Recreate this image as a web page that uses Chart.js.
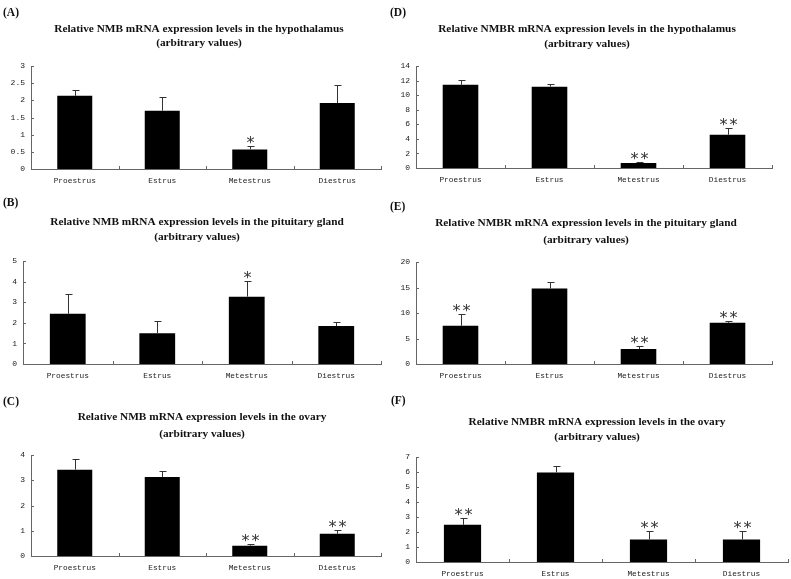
<!DOCTYPE html>
<html>
<head>
<meta charset="utf-8">
<script src="https://cdn.jsdelivr.net/npm/chart.js@4.4.1/dist/chart.umd.min.js"></script>
<style>
  html, body { margin: 0; padding: 0; background: #fff; }
  body { width: 791px; height: 579px; position: relative; overflow: hidden; }
  .panel { position: absolute; }
</style>
</head>
<body>
<div class="panel" id="panelA"><canvas id="chartA"></canvas></div>
<div class="panel" id="panelD"><canvas id="chartD"></canvas></div>
<div class="panel" id="panelB"><canvas id="chartB"></canvas></div>
<div class="panel" id="panelE"><canvas id="chartE"></canvas></div>
<div class="panel" id="panelC"><canvas id="chartC"></canvas></div>
<div class="panel" id="panelF"><canvas id="chartF"></canvas></div>
<script>
        // Phases du cycle oestral
        const categories = ['Proestrus', 'Estrus', 'Metestrus', 'Diestrus'];

        // (A) NMB, hypothalamus
        const nmbHypothalamus = [2.13, 1.70, 0.57, 1.92];
        const nmbHypothalamusErr = [0.18, 0.39, 0.11, 0.52];
        const nmbHypothalamusSig = ['', '', '*', ''];
        const ticksA = [0, 0.5, 1, 1.5, 2, 2.5, 3];

        // (D) NMBR, hypothalamus
        const nmbrHypothalamus = [11.44, 11.16, 0.70, 4.57];
        const nmbrHypothalamusErr = [0.64, 0.37, 0.12, 0.92];
        const nmbrHypothalamusSig = ['', '', '**', '**'];
        const ticksD = [0, 2, 4, 6, 8, 10, 12, 14];

        // (B) NMB, hypophyse
        const nmbPituitary = [2.44, 1.49, 3.27, 1.84];
        const nmbPituitaryErr = [0.97, 0.60, 0.78, 0.22];
        const nmbPituitarySig = ['', '', '*', ''];
        const ticksB = [0, 1, 2, 3, 4, 5];

        // (E) NMBR, hypophyse
        const nmbrPituitary = [7.49, 14.79, 2.93, 8.08];
        const nmbrPituitaryErr = [2.28, 1.30, 0.65, 0.32];
        const nmbrPituitarySig = ['**', '', '**', '**'];
        const ticksE = [0, 5, 10, 15, 20];

        // (C) NMB, ovaire
        const nmbOvary = [3.42, 3.13, 0.41, 0.88];
        const nmbOvaryErr = [0.43, 0.22, 0.08, 0.14];
        const nmbOvarySig = ['', '', '**', '**'];
        const ticksC = [0, 1, 2, 3, 4];

        // (F) NMBR, ovaire
        const nmbrOvary = [2.48, 5.97, 1.50, 1.50];
        const nmbrOvaryErr = [0.47, 0.40, 0.58, 0.58];
        const nmbrOvarySig = ['**', '', '**', '**'];
        const ticksF = [0, 1, 2, 3, 4, 5, 6, 7];

        const subtitle = '(arbitrary values)';

        // Mise en page : boite du canvas [x, y, w, h] et zone du graphique [gauche, droite, haut, bas], en px de la page
        const panels = [
            { id: 'A', title: 'Relative NMB mRNA expression levels in the hypothalamus',
              values: nmbHypothalamus, err: nmbHypothalamusErr, sig: nmbHypothalamusSig, ticks: ticksA,
              box: [0, 0, 388, 190], area: [31, 381, 66, 169], titleX: 199, titleY: [29, 43], tag: [3, 13] },
            { id: 'D', title: 'Relative NMBR mRNA expression levels in the hypothalamus',
              values: nmbrHypothalamus, err: nmbrHypothalamusErr, sig: nmbrHypothalamusSig, ticks: ticksD,
              box: [388, 0, 403, 190], area: [416, 772, 66, 168], titleX: 587, titleY: [29, 44], tag: [390, 13] },
            { id: 'B', title: 'Relative NMB mRNA expression levels in the pituitary gland',
              values: nmbPituitary, err: nmbPituitaryErr, sig: nmbPituitarySig, ticks: ticksB,
              box: [0, 190, 388, 190], area: [23, 381, 261, 364], titleX: 197, titleY: [222, 237], tag: [3, 203] },
            { id: 'E', title: 'Relative NMBR mRNA expression levels in the pituitary gland',
              values: nmbrPituitary, err: nmbrPituitaryErr, sig: nmbrPituitarySig, ticks: ticksE,
              box: [388, 190, 403, 190], area: [416, 772, 262, 364], titleX: 586, titleY: [223, 240], tag: [390, 207] },
            { id: 'C', title: 'Relative NMB mRNA expression levels in the ovary',
              values: nmbOvary, err: nmbOvaryErr, sig: nmbOvarySig, ticks: ticksC,
              box: [0, 380, 388, 199], area: [31, 381, 455, 556], titleX: 202, titleY: [417, 434], tag: [3, 402] },
            { id: 'F', title: 'Relative NMBR mRNA expression levels in the ovary',
              values: nmbrOvary, err: nmbrOvaryErr, sig: nmbrOvarySig, ticks: ticksF,
              box: [388, 380, 403, 199], area: [416, 788, 457, 562], titleX: 597, titleY: [422, 437], tag: [391, 401] }
        ];

        Chart.defaults.font.family = '"Liberation Mono", monospace';
        Chart.defaults.color = '#222';

        // Plugin : barres d'erreur, étoiles, graduations internes, titres
        function makeDecor(p) {
            return {
                id: 'decor' + p.id,
                afterDatasetsDraw(chart) {
                    const ctx = chart.ctx;
                    const xs = chart.scales.x;
                    const ys = chart.scales.y;
                    const area = chart.chartArea;
                    const ox = p.box[0];
                    const oy = p.box[1];
                    ctx.save();

                    // graduations tournées vers l'intérieur
                    ctx.strokeStyle = '#666';
                    ctx.lineWidth = 1;
                    ctx.beginPath();
                    ys.ticks.forEach(t => {
                        const y = Math.round(ys.getPixelForValue(t.value)) + 0.5;
                        ctx.moveTo(area.left, y);
                        ctx.lineTo(area.left + 3, y);
                    });
                    const half = (xs.getPixelForValue(1) - xs.getPixelForValue(0)) / 2;
                    for (let i = 0; i < categories.length; i++) {
                        const x = Math.round(xs.getPixelForValue(i) + half) + 0.5;
                        ctx.moveTo(x, area.bottom);
                        ctx.lineTo(x, area.bottom - 3);
                    }
                    ctx.stroke();

                    // barres d'erreur et étoiles
                    p.values.forEach((v, i) => {
                        const x = Math.round(xs.getPixelForValue(i)) + 0.5;
                        const yBar = ys.getPixelForValue(v);
                        const yTop = Math.round(ys.getPixelForValue(v + p.err[i])) + 0.5;
                        ctx.strokeStyle = '#333';
                        ctx.beginPath();
                        ctx.moveTo(x, yBar);
                        ctx.lineTo(x, yTop);
                        ctx.moveTo(x - 3, yTop);
                        ctx.lineTo(x + 4, yTop);
                        ctx.stroke();
                        if (p.sig[i]) {
                            ctx.fillStyle = '#333';
                            ctx.font = '16px "DejaVu Sans"';
                            ctx.textAlign = 'center';
                            ctx.textBaseline = 'alphabetic';
                            const n = p.sig[i].length;
                            for (let k = 0; k < n; k++) {
                                const dx = (k - (n - 1) / 2) * 10;
                                ctx.fillText('*', x + dx, yTop + 1);
                            }
                        }
                    });

                    // titre sur deux lignes et repère du panneau
                    ctx.fillStyle = '#111';
                    ctx.font = 'bold 11.3px "Liberation Serif"';
                    ctx.textAlign = 'center';
                    ctx.textBaseline = 'middle';
                    ctx.fillText(p.title, p.titleX - ox, p.titleY[0] - oy);
                    ctx.fillText(subtitle, p.titleX - ox, p.titleY[1] - oy);
                    ctx.font = 'bold 11.5px "Liberation Serif"';
                    ctx.textAlign = 'left';
                    ctx.fillText('(' + p.id + ')', p.tag[0] - ox, p.tag[1] - oy);
                    ctx.restore();
                }
            };
        }

        panels.forEach(p => {
            const [x0, y0, w, h] = p.box;
            const [L, R, T, B] = p.area;
            const holder = document.getElementById('panel' + p.id);
            holder.style.left = x0 + 'px';
            holder.style.top = y0 + 'px';
            holder.style.width = w + 'px';
            holder.style.height = h + 'px';

            const ctx = document.getElementById('chart' + p.id).getContext('2d');
            new Chart(ctx, {
                type: 'bar',
                data: {
                    labels: categories,
                    datasets: [{
                        data: p.values,
                        backgroundColor: '#000',
                        borderWidth: 0,
                        barPercentage: 0.4,
                        categoryPercentage: 1
                    }]
                },
                options: {
                    responsive: true,
                    maintainAspectRatio: false,
                    animation: false,
                    events: [],
                    layout: { padding: { left: 0, top: T - y0, right: x0 + w - R, bottom: 0 } },
                    plugins: { legend: { display: false }, tooltip: { enabled: false }, title: { display: false } },
                    scales: {
                        x: {
                            grid: { display: false, drawTicks: false },
                            border: { display: true, color: '#666', width: 1 },
                            ticks: { font: { size: 7.8 }, padding: 7, maxRotation: 0, autoSkip: false },
                            afterFit: s => { s.height = y0 + h - B; }
                        },
                        y: {
                            min: p.ticks[0],
                            max: p.ticks[p.ticks.length - 1],
                            grid: { display: false, drawTicks: false },
                            border: { display: true, color: '#666', width: 1 },
                            ticks: { font: { size: 8 }, padding: 6, callback: v => String(+v) },
                            afterBuildTicks: s => { s.ticks = p.ticks.map(v => ({ value: v })); },
                            afterFit: s => { s.width = L - x0; }
                        }
                    }
                },
                plugins: [makeDecor(p)]
            });
        });
</script>
</body>
</html>
